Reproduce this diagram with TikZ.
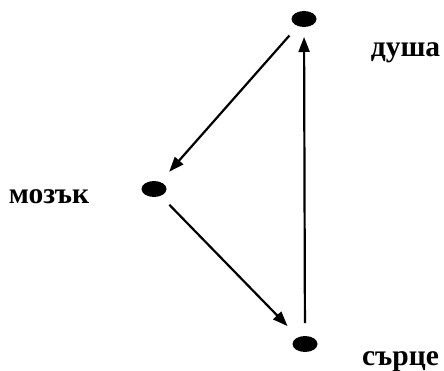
\documentclass[tikz,border=0pt]{standalone}
\usepackage{fontspec}
\setmainfont{Liberation Serif}[BoldFont={Liberation Serif Bold}]
\usetikzlibrary{arrows.meta,shapes.geometric}
\begin{document}
\begin{tikzpicture}[x=1pt,y=-1pt,
  dot/.style={ellipse,fill=black,minimum width=25pt,minimum height=16pt,inner sep=0pt},
  lbl/.style={font=\fontsize{29.5}{32}\selectfont\bfseries,anchor=base,inner sep=0pt},
  conn/.style={line width=2.2pt,-{Triangle[length=15pt,width=11pt]}}]
\useasboundingbox (0,0) rectangle (444,370);
\node[dot] (top) at (304,19) {};
\node[dot] (brain) at (154,189) {};
\node[dot] (heart) at (305,344) {};
\node[lbl] (ltop) at (405.5,56) {душа};
\node[lbl] (lbrain) at (49,203) {мозък};
\node[lbl] (lheart) at (400.5,365) {сърце};
\draw[conn,shorten <=22pt,shorten >=23pt] (top.center) -- (brain.center);
\draw[conn,shorten <=22pt,shorten >=25pt] (brain.center) -- (heart.center);
\draw[conn,shorten <=21pt,shorten >=18pt] (heart.center) -- (top.center);
\end{tikzpicture}
\end{document}
